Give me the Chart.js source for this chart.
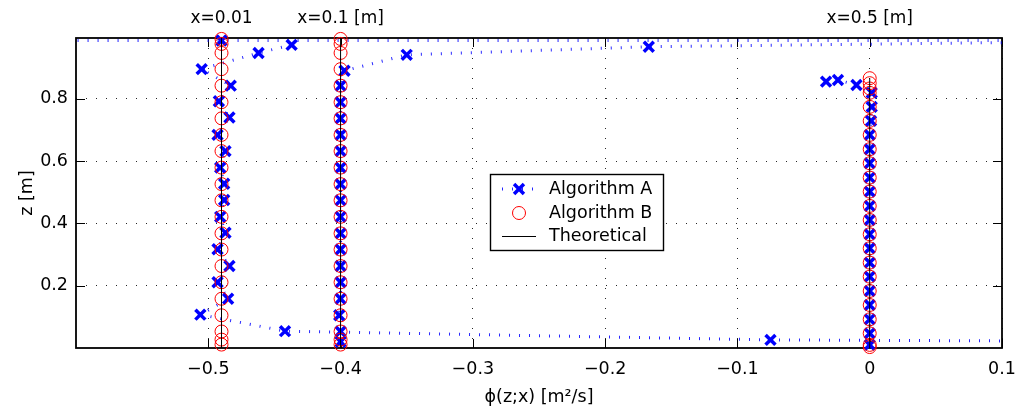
<!DOCTYPE html>
<html>
<head>
<meta charset="utf-8">
<script src="https://cdn.jsdelivr.net/npm/chart.js@4/dist/chart.umd.min.js"></script>
<style>
  html, body { margin: 0; padding: 0; background: #fff; }
  #wrap { width: 1016px; height: 412px; }
</style>
</head>
<body>
<div id="wrap"><canvas id="c" width="1016" height="412"></canvas></div>
<script>
// Stations along the channel and the theoretical flux profile at each
const stationLabels = ['x=0.01', 'x=0.1 [m]', 'x=0.5 [m]'];
const theoryPhi = [-0.49, -0.4, 0];
const theoryTop = [0.995, 0.995, 0.866];

// Axis ticks
const xTicks = [-0.5, -0.4, -0.3, -0.2, -0.1, 0, 0.1];
const yTicks = [0.2, 0.4, 0.6, 0.8];

// Algorithm B: z-levels of the computed values (phi coincides with theory)
const zB1 = [0.011, 0.027, 0.053, 0.105, 0.158, 0.211, 0.263, 0.316, 0.368, 0.421, 0.474,
             0.526, 0.579, 0.632, 0.684, 0.737, 0.789, 0.842, 0.895, 0.947, 0.976, 0.992];
const zB2 = [0.011, 0.027, 0.053, 0.105, 0.158, 0.211, 0.263, 0.316, 0.368, 0.421, 0.474,
             0.526, 0.579, 0.632, 0.684, 0.737, 0.789, 0.842, 0.895, 0.947, 0.976, 0.992];
const zB3 = [0.003, 0.010, 0.047, 0.092, 0.138, 0.183, 0.229, 0.274, 0.320, 0.365, 0.411,
             0.456, 0.502, 0.547, 0.593, 0.638, 0.684, 0.729, 0.774, 0.819, 0.833, 0.850, 0.866];

// Algorithm A: [phi, z] traces (end points beyond the axes continue the dotted line)
const algATop = [[-0.75, 0.987], [-0.49, 0.987], [0.3, 0.987]];
const algAx001 = [[-0.437, 0.973], [-0.462, 0.947], [-0.505, 0.895], [-0.483, 0.842], [-0.492, 0.792],
                  [-0.484, 0.740], [-0.493, 0.684], [-0.487, 0.632], [-0.491, 0.579], [-0.488, 0.527],
                  [-0.488, 0.475], [-0.491, 0.421], [-0.487, 0.370], [-0.493, 0.317], [-0.484, 0.263],
                  [-0.493, 0.211], [-0.485, 0.158], [-0.506, 0.107], [-0.442, 0.054], [-0.075, 0.026],
                  [0.3, 0.019]];
const algAx01 = [[-0.4, 0.020], [-0.4, 0.053], [-0.401, 0.105], [-0.4, 0.158], [-0.4, 0.211],
                 [-0.4, 0.263], [-0.4, 0.316], [-0.4, 0.368], [-0.4, 0.421], [-0.4, 0.474],
                 [-0.4, 0.526], [-0.4, 0.579], [-0.4, 0.632], [-0.4, 0.684], [-0.4, 0.737],
                 [-0.4, 0.789], [-0.4, 0.842], [-0.397, 0.890], [-0.350, 0.941], [-0.167, 0.967],
                 [0.3, 0.990]];
const algAx05 = [[-0.033, 0.855], [-0.024, 0.860], [-0.010, 0.844], [0.0015, 0.819], [0.0015, 0.774],
                 [0.001, 0.729], [0, 0.684], [0, 0.638], [0, 0.593], [0, 0.547], [0, 0.502],
                 [0, 0.456], [0, 0.411], [0, 0.365], [0, 0.320], [0, 0.274], [0, 0.229],
                 [0, 0.183], [0, 0.138], [0, 0.092], [0, 0.047], [0, 0.010]];

const FONT = "'DejaVu Sans'";
const BLUE = '#0000ff';
const RED = '#ff0000';
const CROSS_R = 7;

const toXY = arr => arr.map(([x, y]) => ({ x, y }));

const theoryStyle = {
  showLine: true, borderColor: '#000', borderWidth: 1, pointRadius: 0, tension: 0, clip: false
};
const bStyle = {
  showLine: false, pointStyle: 'circle', pointRadius: 6.5, borderColor: RED,
  pointBorderColor: RED, pointBorderWidth: 1, pointBackgroundColor: 'rgba(0,0,0,0)', clip: false
};
const aStyle = {
  showLine: true, tension: 0, borderColor: 'rgba(0,0,255,0.85)', borderWidth: 3, borderDash: [1, 9],
  pointStyle: 'crossRot', pointRadius: CROSS_R, pointBorderColor: BLUE, pointBorderWidth: 3.5,
  pointBackgroundColor: BLUE, clip: { left: 0, right: 0, top: 10, bottom: 10 }
};

const datasets = [];
theoryPhi.forEach((p, i) => {
  datasets.push(Object.assign({ label: 'Theoretical', data: [{ x: p, y: 0 }, { x: p, y: theoryTop[i] }] }, theoryStyle));
});
[zB1, zB2, zB3].forEach((zs, i) => {
  datasets.push(Object.assign({ label: 'Algorithm B', data: zs.map(z => ({ x: theoryPhi[i], y: z })) }, bStyle));
});
[algATop, algAx001, algAx01, algAx05].forEach(tr => {
  datasets.push(Object.assign({ label: 'Algorithm A', data: toXY(tr) }, aStyle));
});

// Box with inward tick marks on all four sides
const framePlugin = {
  id: 'frame',
  beforeDatasetsDraw(chart) {
    const { ctx, chartArea: a, scales: { x, y } } = chart;
    const tl = 9;
    ctx.save();
    ctx.strokeStyle = '#000';
    ctx.lineWidth = 1;
    ctx.beginPath();
    x.ticks.forEach(t => {
      const px = Math.round(x.getPixelForValue(t.value)) + 0.5;
      ctx.moveTo(px, a.bottom); ctx.lineTo(px, a.bottom - tl);
      ctx.moveTo(px, a.top); ctx.lineTo(px, a.top + tl);
    });
    y.ticks.forEach(t => {
      const py = Math.round(y.getPixelForValue(t.value)) + 0.5;
      ctx.moveTo(a.left, py); ctx.lineTo(a.left + tl, py);
      ctx.moveTo(a.right, py); ctx.lineTo(a.right - tl, py);
    });
    ctx.stroke();
    ctx.lineWidth = 1.8;
    ctx.strokeRect(a.left, a.top, a.right - a.left, a.bottom - a.top);
    ctx.restore();
  }
};

// Station captions above the plot and the boxed legend
const notesPlugin = {
  id: 'notes',
  afterDraw(chart) {
    const { ctx, scales: { x } } = chart;
    ctx.save();
    ctx.fillStyle = '#000';
    ctx.font = "17px " + FONT;
    ctx.textAlign = 'center';
    ctx.textBaseline = 'alphabetic';
    stationLabels.forEach((s, i) => ctx.fillText(s, x.getPixelForValue(theoryPhi[i]), 23));

    const L = 490, T = 174, W = 173, H = 76;
    ctx.fillStyle = '#fff';
    ctx.fillRect(L, T, W, H);
    ctx.strokeStyle = '#000';
    ctx.lineWidth = 1.4;
    ctx.strokeRect(L + 0.5, T + 0.5, W, H);

    const rows = [189, 213, 236];
    const sx0 = L + 12, sx1 = L + 46, sc = L + 29;
    // Algorithm A sample: dotted line with a cross marker
    ctx.save();
    ctx.strokeStyle = 'rgba(0,0,255,0.85)';
    ctx.lineWidth = 3;
    ctx.setLineDash([1, 9]);
    ctx.beginPath(); ctx.moveTo(sx0, rows[0]); ctx.lineTo(sx1, rows[0]); ctx.stroke();
    ctx.restore();
    ctx.strokeStyle = BLUE; ctx.lineWidth = 3.5;
    ctx.beginPath();
    const d = CROSS_R * Math.SQRT1_2;
    ctx.moveTo(sc - d, rows[0] - d); ctx.lineTo(sc + d, rows[0] + d);
    ctx.moveTo(sc + d, rows[0] - d); ctx.lineTo(sc - d, rows[0] + d);
    ctx.stroke();
    // Algorithm B sample
    ctx.strokeStyle = RED; ctx.lineWidth = 1;
    ctx.beginPath(); ctx.arc(sc, rows[1], 6.5, 0, Math.PI * 2); ctx.stroke();
    // Theoretical sample
    ctx.strokeStyle = '#000'; ctx.lineWidth = 1;
    ctx.beginPath(); ctx.moveTo(sx0, rows[2] + 0.5); ctx.lineTo(sx1, rows[2] + 0.5); ctx.stroke();

    ctx.fillStyle = '#000';
    ctx.font = "17.5px " + FONT;
    ctx.textAlign = 'left';
    ctx.textBaseline = 'middle';
    ['Algorithm A', 'Algorithm B', 'Theoretical'].forEach((t, i) => ctx.fillText(t, L + 59, rows[i]));
    ctx.restore();
  }
};

const fmt = v => (v === 0 ? '0' : String(v).replace('-', '\u2212'));

new Chart(document.getElementById('c'), {
  type: 'scatter',
  data: { datasets },
  options: {
    responsive: false,
    devicePixelRatio: 1,
    animation: false,
    events: [],
    layout: { padding: { top: 38, right: 14, left: 0, bottom: 0 } },
    plugins: { legend: { display: false }, tooltip: { enabled: false } },
    scales: {
      x: {
        type: 'linear', min: -0.6, max: 0.1,
        afterBuildTicks: s => { s.ticks = xTicks.map(v => ({ value: v })); },
        afterFit: s => { s.height = 64; s.paddingLeft = 0; s.paddingRight = 0; },
        grid: { color: 'rgba(0,0,0,0.85)', lineWidth: 1, drawTicks: false },
        border: { display: false, dash: [1, 9] },
        ticks: { autoSkip: false, maxRotation: 0, padding: 11, color: '#000',
                 font: { family: FONT, size: 17.5 }, callback: v => fmt(v) },
        title: { display: true, text: '\u03D5(z;x) [m\u00B2/s]', color: '#000',
                 font: { family: FONT, size: 17.5 }, padding: { top: 0, bottom: 4 } }
      },
      y: {
        type: 'linear', min: 0, max: 0.995,
        afterBuildTicks: s => { s.ticks = yTicks.map(v => ({ value: v })); },
        afterFit: s => { s.width = 76; s.paddingTop = 0; s.paddingBottom = 0; },
        grid: { color: 'rgba(0,0,0,0.85)', lineWidth: 1, drawTicks: false },
        border: { display: false, dash: [1, 9] },
        ticks: { autoSkip: false, padding: 8, color: '#000',
                 font: { family: FONT, size: 17.5 }, callback: v => fmt(v) },
        title: { display: true, text: 'z [m]', color: '#000',
                 font: { family: FONT, size: 17.5 }, padding: { top: 17, bottom: 0 } }
      }
    }
  },
  plugins: [framePlugin, notesPlugin]
});
</script>
</body>
</html>
